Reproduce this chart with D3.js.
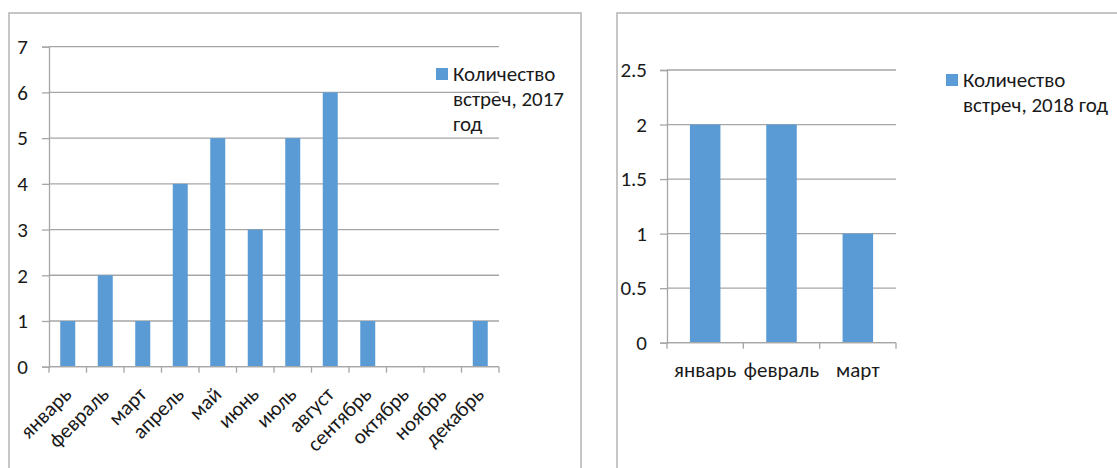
<!DOCTYPE html>
<html>
<head>
<meta charset="utf-8">
<script src="https://cdn.jsdelivr.net/npm/d3@7"></script>
<style>
  html, body { margin: 0; padding: 0; background: #fff; }
  svg text { font-family: Calibri, Carlito, "Open Sans", sans-serif; fill: #1a1a1a; }
</style>
</head>
<body>
<svg id="chart" width="1117" height="468"></svg>
<script>
// Meetings per month, 2017
const months2017 = ["январь","февраль","март","апрель","май","июнь","июль","август","сентябрь","октябрь","ноябрь","декабрь"];
const meetings2017 = [1, 2, 1, 4, 5, 3, 5, 6, 1, 0, 0, 1];
const ticks2017 = [0, 1, 2, 3, 4, 5, 6, 7];
const legend2017 = ["Количество", "встреч, 2017", "год"];

// Meetings per month, 2018
const months2018 = ["январь","февраль","март"];
const meetings2018 = [2, 2, 1];
const ticks2018 = [0, 0.5, 1, 1.5, 2, 2.5];
const legend2018 = ["Количество", "встреч, 2018 год"];

const BAR = "#5B9BD5";
const GRID = "#a6a6a6";
const FRAME = "#b4b4b4";
const FONT = 21;

const svg = d3.select("#chart");

function drawPanel(opt) {
  const g = svg.append("g");
  // outer chart frame
  g.append("rect")
    .attr("x", opt.frame[0]).attr("y", opt.frame[1])
    .attr("width", opt.frame[2]).attr("height", opt.frame[3])
    .attr("fill", "none").attr("stroke", FRAME).attr("stroke-width", 1.5);

  const [x0, y0, x1, y1] = opt.plot;
  const y = d3.scaleLinear().domain([0, opt.max]).range([y1, y0]);
  const x = d3.scaleBand().domain(opt.cats).range([x0, x1])
    .paddingInner(0.6).paddingOuter(0.3);
  const cell = d3.scaleBand().domain(opt.cats).range([x0, x1]).padding(0);

  // horizontal gridlines
  g.append("g").selectAll("line").data(opt.ticks).join("line")
    .attr("x1", x0).attr("x2", x1)
    .attr("y1", d => y(d)).attr("y2", d => y(d))
    .attr("stroke", GRID).attr("stroke-width", 1.3);

  // bars
  g.append("g").selectAll("rect").data(opt.values).join("rect")
    .attr("x", (d, i) => x(opt.cats[i]))
    .attr("width", x.bandwidth())
    .attr("y", d => y(d))
    .attr("height", d => y(0) - y(d))
    .attr("fill", BAR);

  // value axis
  const ya = g.append("g").attr("transform", `translate(${x0},0)`)
    .call(d3.axisLeft(y).tickValues(opt.ticks).tickSize(7).tickPadding(opt.yPad)
      .tickFormat(d => String(d)));
  ya.select(".domain").attr("stroke", GRID).attr("stroke-width", 1.3);
  ya.selectAll(".tick line").attr("stroke", GRID).attr("stroke-width", 1.3);
  ya.selectAll("text").attr("font-size", FONT).attr("fill", "#1a1a1a")
    .style("font-family", "Calibri, Carlito, 'Open Sans', sans-serif");

  // category axis: baseline and boundary ticks
  const bounds = opt.cats.map(c => cell(c)).concat([x1]);
  g.append("line").attr("x1", x0).attr("x2", x1).attr("y1", y1).attr("y2", y1)
    .attr("stroke", GRID).attr("stroke-width", 1.3);
  g.append("g").selectAll("line").data(bounds).join("line")
    .attr("x1", d => d).attr("x2", d => d)
    .attr("y1", y1).attr("y2", y1 + 6)
    .attr("stroke", GRID).attr("stroke-width", 1.3);

  // category labels
  const lbl = g.append("g").selectAll("text").data(opt.cats).join("text")
    .attr("font-size", FONT);
  if (opt.rotate) {
    lbl.attr("text-anchor", "end")
      .attr("transform", d => `translate(${x(d) + x.bandwidth() / 2 + 5},${y1 + 29}) rotate(-45)`)
      .text(d => d);
  } else {
    lbl.attr("text-anchor", "middle")
      .attr("x", d => x(d) + x.bandwidth() / 2)
      .attr("y", y1 + 34)
      .text(d => d);
  }

  // legend
  const lg = g.append("g");
  lg.append("rect").attr("x", opt.legend[0]).attr("y", opt.legend[1])
    .attr("width", 12).attr("height", 12).attr("fill", BAR);
  const t = lg.append("text").attr("font-size", FONT);
  opt.legendText.forEach((line, i) => {
    t.append("tspan").attr("x", opt.legend[0] + 17)
      .attr("y", opt.legend[1] + 13 + i * 25).text(line);
  });
}

drawPanel({
  frame: [9, 13, 572, 480],
  plot: [49, 46.7, 499, 366.7],
  max: 7,
  ticks: ticks2017,
  cats: months2017,
  values: meetings2017,
  yPad: 14,
  rotate: true,
  legend: [436, 68],
  legendText: legend2017
});

drawPanel({
  frame: [617, 13, 520, 480],
  plot: [667, 70, 896, 342.7],
  max: 2.5,
  ticks: ticks2018,
  cats: months2018,
  values: meetings2018,
  yPad: 13,
  rotate: false,
  legend: [946, 74],
  legendText: legend2018
});
</script>
</body>
</html>
